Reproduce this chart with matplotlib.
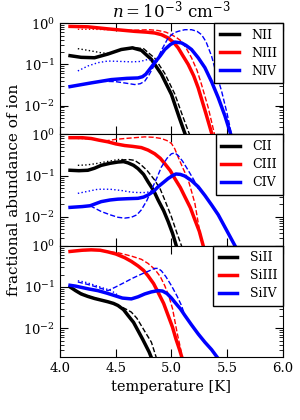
import numpy as np
import matplotlib
matplotlib.use('Agg')
import matplotlib.pyplot as plt

plt.rcParams['font.family'] = 'DejaVu Serif'
plt.rcParams['mathtext.fontset'] = 'dejavuserif'
plt.rcParams['font.size'] = 9

# temperatures (log10 K) and log10 fractional abundances
# ---- nitrogen ----
nii_T = [4.09, 4.19, 4.31, 4.43, 4.55, 4.65, 4.73, 4.82, 4.91, 5.0, 5.07, 5.15]
nii = [-0.79, -0.83, -0.84, -0.75, -0.64, -0.60, -0.66, -0.88, -1.24, -1.73, -2.29, -2.9]
nii_dT = [4.55, 4.65, 4.75, 4.85, 4.94, 5.03, 5.1, 5.19]
nii_d = [-0.64, -0.59, -0.62, -0.85, -1.22, -1.72, -2.25, -2.9]
nii_pT = [4.16, 4.25, 4.37, 4.45]
nii_p = [-0.62, -0.66, -0.72, -0.74]

niii_T = [4.09, 4.25, 4.43, 4.55, 4.67, 4.78, 4.85, 4.91, 4.97, 5.02, 5.06, 5.10, 5.15, 5.20, 5.24, 5.31, 5.38]
niii = [-0.08, -0.09, -0.14, -0.17, -0.2, -0.22, -0.24, -0.28, -0.36, -0.47, -0.6, -0.78, -1.0, -1.28, -1.57, -2.2, -2.85]
niii_dT = [4.6, 4.7, 4.8, 4.88, 4.95, 5.0, 5.05, 5.09, 5.13, 5.18, 5.23, 5.27, 5.33, 5.40]
niii_d = [-0.18, -0.17, -0.16, -0.18, -0.22, -0.28, -0.36, -0.44, -0.6, -0.84, -1.15, -1.49, -2.05, -2.85]
niii_pT = [4.16, 4.3, 4.45]
niii_p = [-0.15, -0.15, -0.16]

niv_T = [4.09, 4.28, 4.46, 4.6, 4.7, 4.74, 4.77, 4.81, 4.85, 4.9, 4.94, 4.99, 5.03, 5.09, 5.13, 5.18,
         5.24, 5.30, 5.36, 5.42, 5.48, 5.55]
niv = [-1.54, -1.45, -1.37, -1.34, -1.33, -1.3, -1.24, -1.1, -0.96, -0.79, -0.64, -0.52, -0.46, -0.48,
       -0.54, -0.64, -0.84, -1.08, -1.42, -1.81, -2.25, -2.85]
niv_dT = [4.37, 4.5, 4.6, 4.67, 4.72, 4.76, 4.8, 4.85, 4.91, 4.97, 5.02, 5.06, 5.12, 5.18, 5.23, 5.27,
          5.31, 5.36, 5.40, 5.45, 5.5, 5.55]
niv_d = [-1.41, -1.42, -1.46, -1.49, -1.47, -1.41, -1.25, -1.0, -0.66, -0.36, -0.24, -0.2, -0.16, -0.16,
         -0.2, -0.28, -0.45, -0.8, -1.2, -1.65, -2.2, -2.85]
niv_pT = [4.16, 4.25, 4.34, 4.43, 4.55, 4.64, 4.72, 4.79, 4.85]
niv_p = [-1.16, -1.04, -0.96, -0.92, -0.93, -0.94, -0.93, -0.88, -0.92]

# ---- carbon ----
cii_T = [4.09, 4.17, 4.25, 4.31, 4.37, 4.45, 4.52, 4.57, 4.61, 4.66, 4.70, 4.75, 4.79, 4.84, 4.88,
         4.93, 4.97, 5.01, 5.06]
cii = [-0.87, -0.88, -0.87, -0.82, -0.75, -0.7, -0.67, -0.66, -0.69, -0.75, -0.83, -0.97, -1.15, -1.36,
       -1.59, -1.85, -2.11, -2.4, -2.85]
cii_dT = [4.55, 4.62, 4.67, 4.72, 4.78, 4.85, 4.9, 4.94, 5.0, 5.05, 5.11]
cii_d = [-0.62, -0.61, -0.63, -0.72, -0.87, -1.11, -1.33, -1.59, -2.0, -2.4, -2.85]
cii_pT = [4.16, 4.24, 4.32, 4.42, 4.52, 4.57]
cii_p = [-0.75, -0.74, -0.71, -0.66, -0.61, -0.61]

ciii_T = [4.09, 4.2, 4.28, 4.35, 4.43, 4.5, 4.58, 4.65, 4.73, 4.79, 4.85, 4.9, 4.94, 4.99, 5.03, 5.08,
          5.12, 5.17, 5.21, 5.25, 5.30]
ciii = [-0.08, -0.08, -0.1, -0.14, -0.18, -0.23, -0.27, -0.29, -0.32, -0.38, -0.47, -0.58, -0.71,
        -0.88, -1.07, -1.29, -1.51, -1.78, -2.07, -2.35, -2.85]
ciii_dT = [4.4, 4.5, 4.58, 4.67, 4.76, 4.84, 4.91, 4.96, 5.0, 5.03, 5.06, 5.1, 5.15, 5.18, 5.21, 5.25, 5.30]
ciii_d = [-0.16, -0.12, -0.1, -0.08, -0.06, -0.07, -0.1, -0.15, -0.22, -0.35, -0.55, -0.8, -1.1, -1.38,
          -1.67, -2.3, -2.85]
ciii_pT = [4.16, 4.3]
ciii_p = [-0.1, -0.11]

civ_T = [4.09, 4.2, 4.27, 4.32, 4.37, 4.45, 4.52, 4.6, 4.7, 4.75, 4.79, 4.84, 4.88, 4.93, 4.97, 5.01,
         5.04, 5.08, 5.12, 5.18, 5.24, 5.3, 5.36, 5.42, 5.5, 5.6]
civ = [-1.77, -1.75, -1.73, -1.68, -1.63, -1.59, -1.57, -1.56, -1.55, -1.52, -1.47, -1.38, -1.27, -1.16,
       -1.07, -1.0, -0.96, -0.97, -1.01, -1.12, -1.27, -1.48, -1.71, -1.95, -2.35, -2.85]
civ_dT = [4.27, 4.32, 4.37, 4.45, 4.52, 4.58, 4.64, 4.69, 4.73, 4.78, 4.82, 4.87, 4.91, 4.96, 5.0,
          5.03, 5.06, 5.1, 5.15, 5.2, 5.24, 5.3]
civ_d = [-1.73, -1.8, -1.87, -1.95, -2.01, -2.03, -2.01, -1.95, -1.83, -1.6, -1.35, -1.05, -0.79, -0.58,
         -0.47, -0.45, -0.51, -0.65, -0.87, -1.1, -1.31, -1.48]
civ_pT = [4.16, 4.25, 4.34, 4.45, 4.55, 4.64, 4.7, 4.76, 4.82]
civ_p = [-1.43, -1.38, -1.33, -1.33, -1.36, -1.4, -1.41, -1.41, -1.39]

# ---- silicon ----
siii_T = [4.09, 4.14, 4.19, 4.25, 4.31, 4.37, 4.43, 4.48, 4.52, 4.57, 4.61, 4.66, 4.70, 4.74, 4.77,
          4.80, 4.84]
siii = [-1.0, -1.09, -1.17, -1.23, -1.28, -1.32, -1.36, -1.4, -1.45, -1.55, -1.69, -1.86, -2.06, -2.26,
        -2.42, -2.58, -2.85]
siii_dT = [4.5, 4.55, 4.6, 4.64, 4.69, 4.73, 4.77, 4.82, 4.88]
siii_d = [-1.43, -1.48, -1.55, -1.61, -1.76, -1.94, -2.12, -2.34, -2.85]
siii_pT = [4.16, 4.3, 4.45]
siii_p = [-1.12, -1.26, -1.38]

siiii_T = [4.09, 4.2, 4.28, 4.36, 4.43, 4.5, 4.58, 4.64, 4.7, 4.75, 4.79, 4.84, 4.88, 4.93, 4.97, 5.01,
           5.04, 5.07, 5.11]
siiii = [-0.14, -0.11, -0.1, -0.11, -0.15, -0.2, -0.29, -0.38, -0.49, -0.6, -0.73, -0.92, -1.13, -1.4,
         -1.69, -1.98, -2.26, -2.5, -2.85]
siiii_dT = [4.45, 4.52, 4.58, 4.65, 4.73, 4.79, 4.85, 4.9, 4.94, 4.98, 5.01, 5.05, 5.11]
siiii_d = [-0.15, -0.17, -0.21, -0.26, -0.33, -0.43, -0.57, -0.75, -0.97, -1.25, -1.53, -2.1, -2.85]
siiii_pT = [4.16, 4.3]
siiii_p = [-0.13, -0.1]

siiv_T = [4.09, 4.14, 4.19, 4.26, 4.34, 4.42, 4.49, 4.56, 4.64, 4.7, 4.76, 4.82, 4.88, 4.92, 4.96, 5.0,
          5.03, 5.08, 5.12, 5.18, 5.24, 5.3, 5.36, 5.45]
siiv = [-0.96, -0.98, -1.01, -1.05, -1.09, -1.15, -1.21, -1.27, -1.29, -1.24, -1.17, -1.12, -1.09, -1.1,
        -1.16, -1.27, -1.37, -1.53, -1.69, -1.92, -2.14, -2.34, -2.52, -2.85]
siiv_dT = [4.16, 4.25, 4.34, 4.43, 4.5, 4.58, 4.65, 4.73, 4.8, 4.85, 4.88, 4.91, 4.95, 5.0, 5.05, 5.09, 5.12]
siiv_d = [-0.88, -0.94, -1.01, -1.09, -1.0, -0.89, -0.79, -0.69, -0.61, -0.55, -0.55, -0.61, -0.75,
          -0.97, -1.22, -1.45, -1.69]
siiv_pT = [4.16, 4.22, 4.28, 4.37, 4.46, 4.52]
siiv_p = [-0.85, -0.88, -0.93, -1.01, -1.09, -1.2]

panels = [
    [('NII', 'k', nii_T, nii, nii_dT, nii_d, nii_pT, nii_p),
     ('NIII', 'r', niii_T, niii, niii_dT, niii_d, niii_pT, niii_p),
     ('NIV', 'b', niv_T, niv, niv_dT, niv_d, niv_pT, niv_p)],
    [('CII', 'k', cii_T, cii, cii_dT, cii_d, cii_pT, cii_p),
     ('CIII', 'r', ciii_T, ciii, ciii_dT, ciii_d, ciii_pT, ciii_p),
     ('CIV', 'b', civ_T, civ, civ_dT, civ_d, civ_pT, civ_p)],
    [('SiII', 'k', siii_T, siii, siii_dT, siii_d, siii_pT, siii_p),
     ('SiIII', 'r', siiii_T, siiii, siiii_dT, siiii_d, siiii_pT, siiii_p),
     ('SiIV', 'b', siiv_T, siiv, siiv_dT, siiv_d, siiv_pT, siiv_p)],
]

fig, axes = plt.subplots(3, 1, figsize=(3, 4.2), dpi=100, sharex=True)
fig.subplots_adjust(left=0.2, right=0.943, top=0.945, bottom=0.15, hspace=0)

for ax, ions in zip(axes, panels):
    for name, c, T, f, dT, d, pT, p in ions:
        ax.plot(pT, 10**np.array(p), color=c, ls=':', lw=1)
        ax.plot(dT, 10**np.array(d), color=c, ls='--', lw=1)
        ax.plot(T, 10**np.array(f), color=c, ls='-', lw=2.5, label=name)
    ax.set_yscale('log')
    ax.set_ylim(2e-3, 1)
    ax.set_xlim(4.0, 6.0)
    ax.set_yticks([1e-2, 1e-1, 1])
    ax.tick_params(which='both', direction='in', top=True, right=True, labelsize=9.5)
    ax.tick_params(which='major', length=6)
    ax.tick_params(which='minor', length=3)
    leg = ax.legend(loc='upper right', borderaxespad=0, fontsize=9, handlelength=1.5,
                    handletextpad=1.0, borderpad=0.45, labelspacing=0.4,
                    fancybox=False, framealpha=1)
    leg.get_frame().set_edgecolor('k')

axes[2].set_xticks([4.0, 4.5, 5.0, 5.5, 6.0])
axes[2].set_xlabel('temperature [K]', fontsize=10.5)
axes[1].set_ylabel('fractional abundance of ion', fontsize=11, labelpad=2)
axes[0].set_title(r'$n=10^{-3}\ \mathrm{cm}^{-3}$', fontsize=12, pad=4)

fig.savefig('out.png')
